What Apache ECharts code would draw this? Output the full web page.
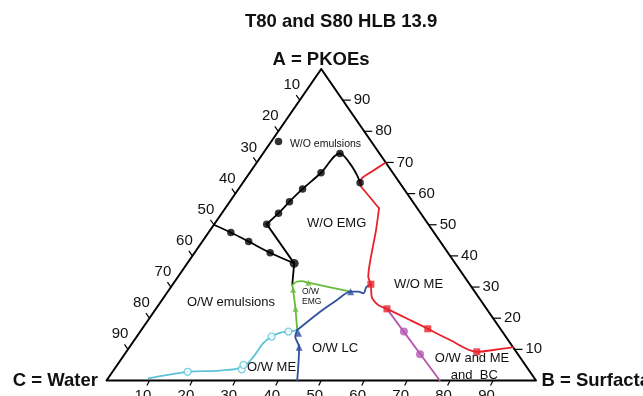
<!DOCTYPE html>
<html>
<head>
<meta charset="utf-8">
<script src="https://cdn.jsdelivr.net/npm/echarts@6/dist/echarts.min.js"></script>
<style>
  html, body { margin: 0; padding: 0; background: #fff; }
  #chart { width: 643px; height: 396px; }
</style>
</head>
<body>
<div id="chart"></div>
<script>
// Every composition is written as [PKOEs %, surfactant %]; water makes up the rest.
const tickValues = [10, 20, 30, 40, 50, 60, 70, 80, 90];

const triangleEdge = [[100, 0], [0, 100], [0, 0], [100, 0]];

// W/O emulsion gel boundary (black)
const blackLower = [[50, 0], [47.5, 5.2], [44.6, 10.8], [41, 17.6], [37.6, 24.9]];
const blackStem = [[37.6, 24.9], [30.7, 27.9]];
const blackRise = [[37.6, 24.9], [50.2, 12.2]];
const blackUpper = [[50.2, 12.2], [53.7, 13.2], [57.4, 13.9], [61.5, 14.9], [66.7, 16.6],
                    [72.9, 17.9], [69.7, 21.8], [66, 25.3], [63.5, 27.3]];
const blackDots = [[47.5, 5.2], [44.6, 10.8], [41, 17.6], [50.2, 12.2], [53.7, 13.2],
                   [57.4, 13.9], [61.5, 14.9], [66.7, 16.6], [72.9, 17.9], [63.5, 27.3], [76.7, 1.7]];
const blackJunction = [[37.6, 24.9]];

// O/W emulsion gel (green)
const greenStem = [[30.7, 27.9], [29.1, 28.9], [23, 32.5], [16.2, 36.3]];
const greenUpper = [[30.7, 27.9], [31.7, 28.4], [31.9, 29.5], [31.4, 31.3], [28.5, 42.6]];
const greenMarks = [[29.1, 28.9], [23, 32.5], [31.4, 31.3]];

// O/W liquid crystal (blue)
const blueStem = [[0, 44.4], [10.7, 39.5], [14.1, 36.9], [16.2, 36.3]];
const blueUpper = [[16.2, 36.3], [22.1, 38.7], [25.8, 40.7], [28.5, 42.6], [28.5, 44.4],
                   [28, 45.8], [30.1, 45.5], [30.9, 46.1]];
const blueMarks = [[10.7, 39.5], [15.2, 37.1], [28.5, 42.6]];

// O/W microemulsion (cyan)
const cyanCurve = [[0.7, 9.4], [2.8, 17.5], [3.2, 24.8], [4.3, 29.5], [7.6, 30.4], [11.9, 30.5],
                   [14.1, 31.4], [15.3, 32.7], [15.7, 34.5], [16.2, 36.3]];
const cyanCircles = [[2.8, 17.5], [3.6, 29.7], [5, 29.4], [14.1, 31.4], [15.7, 34.5]];

// W/O microemulsion (red)
const redTop = [[70, 30], [67, 28.2], [64.9, 27], [63.5, 27.3]];
const redBend = [[63.5, 27.3], [62.2, 28.2], [55.3, 35.8]];
const redLower = [[55.3, 35.8], [48.3, 38.6], [37.6, 42.5], [33.3, 44.3], [30.9, 46.1], [26.9, 48.3],
                  [24.2, 51.2], [23, 53.8], [19.4, 61], [16.6, 66.5], [13, 73.5], [9.2, 81.6],
                  [10.1, 86.6], [10.7, 89.3]];
const redSquares = [[30.9, 46.1], [23, 53.8], [16.6, 66.5], [9.2, 81.6]];

// O/W + ME + BC divide (magenta)
const magentaLine = [[23, 53.8], [0, 77.6]];
const magentaDots = [[15.7, 61.4], [8.4, 68.8]];

// ternary [A, B] -> plane [x, y]; x runs along the base, y is the PKOEs height
function tern(p) { return [p[1] + p[0] / 2, p[0]]; }
function pts(list) { return list.map(tern); }

const FONT = '"Liberation Sans", Arial, sans-serif';

function path(list, color, smooth, width) {
  return {
    type: 'line', data: pts(list), symbol: 'none', smooth: smooth, clip: false,
    lineStyle: { color: color, width: width || 1.8, cap: 'round', join: 'round' },
    silent: true, z: 2
  };
}
function marks(list, symbol, size, color, hollow) {
  return {
    type: 'scatter', data: pts(list), symbol: symbol, symbolSize: size, clip: false,
    itemStyle: hollow ? { color: '#fff', borderColor: color, borderWidth: 1.3 } : { color: color },
    silent: true, z: 4
  };
}

// tick marks + labels on one edge: dx/dy is the tick direction, lx/ly the label offset
function edgeTicks(points, labels, dx, dy, lx, ly, align) {
  return {
    type: 'custom', data: pts(points), silent: true, z: 3,
    renderItem: function (params, api) {
      const p = api.coord([api.value(0), api.value(1)]);
      return {
        type: 'group',
        children: [
          { type: 'line', shape: { x1: p[0], y1: p[1], x2: p[0] + dx, y2: p[1] + dy },
            style: { stroke: '#000', lineWidth: 1.2 } },
          { type: 'text', x: p[0] + lx, y: p[1] + ly,
            style: { text: String(labels[params.dataIndex]), fill: '#111', font: '15px ' + FONT,
                     align: align, verticalAlign: 'middle' } }
        ]
      };
    }
  };
}

const leftTicks = tickValues.map(v => [100 - v, 0]);    // water axis
const rightTicks = tickValues.map(v => [v, 100 - v]);   // PKOEs axis
const bottomTicks = tickValues.map(v => [0, v]);        // surfactant axis

function label(text, x, y, size, align, bold) {
  return {
    type: 'text', x: x, y: y, z: 10, silent: true,
    style: { text: text, fill: '#111', font: (bold ? 'bold ' : '') + size + 'px ' + FONT,
             align: align || 'center', verticalAlign: 'middle' }
  };
}

const chart = echarts.init(document.getElementById('chart'), null, { renderer: 'canvas' });
chart.setOption({
  animation: false,
  backgroundColor: '#fff',
  title: {
    text: 'T80 and S80 HLB 13.9', left: 245, top: 12.5, padding: 0,
    textStyle: { fontFamily: FONT, fontSize: 18.5, fontWeight: 'bold', color: '#111' }
  },
  grid: { left: 106.5, right: 107, top: 69, bottom: 15.5, containLabel: false, outerBoundsMode: 'none' },
  xAxis: { type: 'value', min: 0, max: 100, show: false },
  yAxis: { type: 'value', min: 0, max: 100, show: false },
  graphic: [
    label('A = PKOEs', 321, 60, 18.5, 'center', true),
    label('C = Water', 98, 381, 18.5, 'right', true),
    label('B = Surfactant', 541.5, 381, 18.5, 'left', true),
    label('W/O emulsions', 325.5, 144.5, 10.5),
    label('W/O EMG', 336.7, 223.5, 13),
    label('O/W emulsions', 231, 302.7, 13),
    label('O/W', 302, 291.7, 8.5, 'left'),
    label('EMG', 302, 301.2, 8.5, 'left'),
    label('W/O ME', 418.5, 284.5, 13),
    label('O/W LC', 335, 348.5, 13),
    label('O/W ME', 271.5, 367.5, 13),
    label('O/W and ME', 472, 358.5, 13),
    label('and  BC', 474.3, 375, 13)
  ],
  series: [
    path(triangleEdge, '#000', false, 2),
    edgeTicks(leftTicks, tickValues, -3.5, -5, -8, -15, 'center'),
    edgeTicks(rightTicks, tickValues, 8, 0, 11, 0, 'left'),
    edgeTicks(bottomTicks, tickValues, -2.5, 5, -6.5, 15.5, 'center'),
    path(blackLower, '#000', 0.35),
    path(blackStem, '#000', false),
    path(blackRise, '#000', false),
    path(blackUpper, '#000', 0.35),
    path(cyanCurve, '#5cc3d9', 0.35),
    path(greenStem, '#66bb3a', 0.2),
    path(greenUpper, '#66bb3a', 0.3),
    path(blueStem, '#2f4f9f', 0.3),
    path(blueUpper, '#2f4f9f', 0.3),
    path(redTop, '#e8212b', 0.35),
    path(redBend, '#e8212b', false),
    path(redLower, '#e8212b', 0.3),
    path(magentaLine, '#b557b0', false),
    marks(blackDots, 'circle', 7.5, '#000'),
    marks(blackJunction, 'circle', 9, '#000'),
    marks(greenMarks, 'triangle', 6, '#66bb3a'),
    marks(blueMarks, 'triangle', 7, '#2f4f9f'),
    marks(cyanCircles, 'circle', 7, '#5cc3d9', true),
    marks(redSquares, 'rect', 7, '#e8212b'),
    marks(magentaDots, 'circle', 8, '#b557b0')
  ]
});
</script>
</body>
</html>
